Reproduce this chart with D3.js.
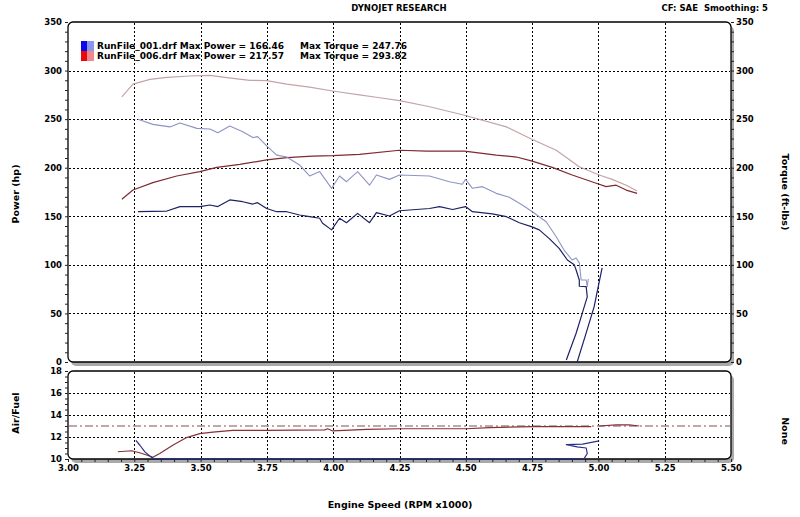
<!DOCTYPE html>
<html><head><meta charset="utf-8">
<script src="https://cdn.jsdelivr.net/npm/d3@7"></script>
<style>
html,body{margin:0;padding:0;background:#fff;}
svg{display:block;font-family:"DejaVu Sans",Verdana,sans-serif;font-weight:bold;}
</style></head>
<body>
<script>
// ---------- DATA ----------
const xTicks = [3.00,3.25,3.50,3.75,4.00,4.25,4.50,4.75,5.00,5.25,5.50];
const powerTicks = [0,50,100,150,200,250,300,350];
const afrTicks = [10,12,14,16,18];
const runNames = ["RunFile_001.drf","RunFile_006.drf"];
const maxPower = ["166.46","217.57"];
const maxTorque = ["247.76","293.82"];
const afrTarget = 13;

// Run 006 torque
const rpmTq006 = [3.203,3.245,3.309,3.373,3.459,3.535,3.599,3.685,3.749,3.825,3.911,3.998,4.099,4.175,4.250,4.360,4.495,4.653,4.747,4.841,4.928,5.003,5.052,5.105,5.146];
const tq006 =    [273,286,291,293,294.4,295,292.7,290,289.6,286,283,279,275,272,269,263,254,242,229.5,218,201,192.5,188,182,176];
// Run 006 power
const rpmPw006 = [3.203,3.245,3.320,3.410,3.497,3.561,3.648,3.749,3.825,3.922,3.998,4.099,4.250,4.352,4.495,4.615,4.691,4.747,4.826,4.901,4.992,5.029,5.067,5.105,5.146];
const pw006 =    [167.5,177,184.6,191.5,196,200.4,203.4,208,210.3,212,212.4,213.8,218,217,217,213,211,207,200.4,192.5,184,180.5,182,177,173.6];
// Run 001 torque
const rpmTq001 = [3.264,3.320,3.384,3.422,3.486,3.535,3.565,3.610,3.659,3.697,3.715,3.749,3.787,3.825,3.873,3.911,3.949,3.994,4.024,4.050,4.092,4.137,4.163,4.212,4.250,4.363,4.438,4.487,4.499,4.525,4.563,4.615,4.664,4.713,4.751,4.803,4.841,4.871,4.901,4.916,4.928,4.935,4.954,4.958,4.962];
const tq001 =    [249.8,244.6,242,246,240.5,239.8,236,243,237,231,232,222.4,213,211,202.8,191.5,196,178.8,191.5,185.6,196,182,192.5,188,192.5,191.5,185.6,183,188,178.8,180.5,173.6,169.5,161.6,154.7,144.4,129,115,105,107,102,84.4,84.4,77.5,85.4];
// Run 001 power (null = pen lift)
const rpmPw001 = [3.264,3.373,3.422,3.497,3.535,3.565,3.610,3.659,3.697,3.715,3.749,3.787,3.825,3.873,3.911,3.949,3.960,3.994,4.024,4.050,4.092,4.137,4.163,4.212,4.250,4.363,4.401,4.450,4.499,4.525,4.600,4.653,4.702,4.747,4.777,4.815,4.852,4.883,4.909,4.916,4.928,4.928,4.954,4.958,4.939,4.916,4.879,null,4.920,4.954,4.984,4.999,5.014];
const pw001 =    [154.7,155.4,160,160,161.6,160,166.8,165,162.6,164,158,154.7,154.7,151.3,149.6,148,142.8,136,148,143.4,153,143.4,153.7,150.3,155.7,158,160,157,160,154.7,152.4,149.6,143.4,139.3,136,127,117,105,100,94.7,84.4,78,77.5,67,50,29.6,2,null,0,30,57,77,97];
// Air/Fuel
const rpmAfr006 = [3.188,3.240,3.270,3.308,3.320,3.346,3.395,3.447,3.497,3.546,3.621,3.749,3.968,3.979,3.998,4.126,4.250,4.502,4.589,4.751,4.973,null,5.003,5.067,5.116,5.154];
const afr006 =    [10.66,10.75,10.57,10.27,10.15,10.5,11.25,11.95,12.3,12.45,12.6,12.6,12.65,12.75,12.55,12.7,12.75,12.75,12.85,12.95,12.95,null,13.0,13.1,13.1,13.0];
const rpmAfr001 = [3.256,3.271,3.290,3.308,3.323,4.946,4.958,4.954,4.920,4.879,4.940,5.003];
const afr001 =    [11.7,11.25,10.65,10.27,10.03,10.03,10.5,11.0,11.1,11.3,11.35,11.65];

// ---------- LAYOUT ----------
const W = 800, H = 517;
const L = 68, R = 731;
const topY0 = 22, topY1 = 362, botY0 = 371, botY1 = 459;

const svg = d3.select("body").append("svg").attr("width",W).attr("height",H);
const x = d3.scaleLinear().domain([3,5.5]).range([L,R]);
const y = d3.scaleLinear().domain([0,350]).range([topY1,topY0]);
const ya = d3.scaleLinear().domain([10,18]).range([botY1,botY0]);

// panels with shadow
function panel(y0,y1){
  svg.append("rect").attr("x",L+3).attr("y",y0+4).attr("width",R-L).attr("height",y1-y0)
    .attr("rx",5).attr("fill","#a9a9a9");
  svg.append("rect").attr("x",L).attr("y",y0).attr("width",R-L).attr("height",y1-y0)
    .attr("rx",5).attr("fill","#fff").attr("stroke","#000").attr("stroke-width",1.3);
}
panel(topY0,topY1);
panel(botY0,botY1);

// gridlines
const grid = svg.append("g").attr("stroke","#000").attr("stroke-width",1).attr("stroke-dasharray","2,2");
xTicks.slice(1,-1).forEach(t=>{
  grid.append("line").attr("x1",Math.round(x(t))+0.5).attr("x2",Math.round(x(t))+0.5).attr("y1",topY0+1).attr("y2",topY1-1);
  grid.append("line").attr("x1",Math.round(x(t))+0.5).attr("x2",Math.round(x(t))+0.5).attr("y1",botY0+1).attr("y2",botY1-1);
});
powerTicks.slice(1,-1).forEach(t=>{
  grid.append("line").attr("x1",L+1).attr("x2",R-1).attr("y1",Math.round(y(t))+0.5).attr("y2",Math.round(y(t))+0.5);
});
afrTicks.slice(1,-1).forEach(t=>{
  grid.append("line").attr("x1",L+1).attr("x2",R-1).attr("y1",Math.round(ya(t))+0.5).attr("y2",Math.round(ya(t))+0.5);
});

// axes
const fs = "8.5px";
const axL = svg.append("g").attr("transform",`translate(${L},0)`)
  .call(d3.axisLeft(y).tickValues(d3.range(0,351,10)).tickSize(3).tickFormat(""));
const axL2 = svg.append("g").attr("transform",`translate(${L},0)`)
  .call(d3.axisLeft(y).tickValues(powerTicks).tickSize(0).tickPadding(6).tickFormat(d3.format("d")));
const axR = svg.append("g").attr("transform",`translate(${R},0)`)
  .call(d3.axisRight(y).tickValues(d3.range(0,351,10)).tickSize(3).tickFormat(""));
const axR2 = svg.append("g").attr("transform",`translate(${R},0)`)
  .call(d3.axisRight(y).tickValues(powerTicks).tickSize(0).tickPadding(5).tickFormat(d3.format("d")));
const axA = svg.append("g").attr("transform",`translate(${L},0)`)
  .call(d3.axisLeft(ya).tickValues(d3.range(10,18.01,0.5)).tickSize(3).tickFormat(""));
const axA2 = svg.append("g").attr("transform",`translate(${L},0)`)
  .call(d3.axisLeft(ya).tickValues(afrTicks).tickSize(0).tickPadding(6).tickFormat(d3.format("d")));
const axX = svg.append("g").attr("transform",`translate(0,${botY1})`)
  .call(d3.axisBottom(x).tickValues(d3.range(3,5.501,0.05)).tickSize(3).tickFormat(""));
const axX2 = svg.append("g").attr("transform",`translate(0,${botY1})`)
  .call(d3.axisBottom(x).tickValues(xTicks).tickSize(0).tickPadding(6).tickFormat(d3.format(".2f")));
[axL,axL2,axR,axR2,axA,axA2,axX,axX2].forEach(a=>{
  a.select(".domain").remove();
  a.selectAll("text").attr("font-size",fs).attr("font-family","DejaVu Sans").attr("font-weight","bold").attr("fill","#000");
  a.selectAll("line").attr("stroke","#222");
});

// target AFR dash-dot
svg.append("line").attr("x1",L+1).attr("x2",R-1).attr("y1",ya(afrTarget)).attr("y2",ya(afrTarget))
  .attr("stroke","#b08a8a").attr("stroke-width",1.3).attr("stroke-dasharray","8,3,2,3");

// curves
function drawLine(xs, vs, scale, color, w){
  const pts = xs.map((r,i)=>[r,vs[i]]);
  const line = d3.line().defined(d=>d[0]!==null && d[1]!==null).x(d=>x(d[0])).y(d=>scale(d[1]));
  svg.append("path").datum(pts).attr("d",line).attr("fill","none")
    .attr("stroke",color).attr("stroke-width",w).attr("stroke-linejoin","round");
}
drawLine(rpmTq006, tq006, y, "#c4a4a6", 1.2);
drawLine(rpmPw006, pw006, y, "#7e2a2e", 1.2);
drawLine(rpmTq001, tq001, y, "#8e94c4", 1.1);
drawLine(rpmPw001, pw001, y, "#1c2266", 1.2);
drawLine(rpmAfr006, afr006, ya, "#863038", 1.2);
drawLine(rpmAfr001, afr001, ya, "#2a3088", 1.2);

// titles
function txt(t,xx,yy,anchor,size,rot){
  const e = svg.append("text").attr("x",xx).attr("y",yy).attr("text-anchor",anchor||"start")
    .attr("font-size",size||"9px").attr("dominant-baseline","middle").attr("fill","#000").text(t);
  if(rot) e.attr("transform",`rotate(${rot},${xx},${yy})`);
  return e;
}
txt("DYNOJET RESEARCH",399,8,"middle","8.5px");
txt("CF: SAE  Smoothing: 5",768,8,"end","8.5px").attr("xml:space","preserve").style("white-space","pre");
txt("Power (hp)",16,194,"middle","9.5px",-90);
txt("Air/Fuel",16,413,"middle","9.5px",-90);
txt("Torque (ft-lbs)",784,192,"middle","9.5px",90);
txt("None",784,431,"middle","9.5px",90);
txt("Engine Speed (RPM x1000)",400,505,"middle","9.5px");

// legend
const dark = ["#0a0ae8","#e80a0a"], light = ["#8a96ee","#f08a8a"];
runNames.forEach((n,i)=>{
  const yy = 41 + i*10;
  svg.append("rect").attr("x",81).attr("y",yy).attr("width",6).attr("height",10).attr("fill",dark[i]);
  svg.append("rect").attr("x",87).attr("y",yy).attr("width",7).attr("height",10).attr("fill",light[i]);
  txt(`${n} Max Power = ${maxPower[i]}`,97,yy+5,"start","9px");
  txt(`Max Torque = ${maxTorque[i]}`,300,yy+5,"start","9px");
});
</script>
</body></html>
